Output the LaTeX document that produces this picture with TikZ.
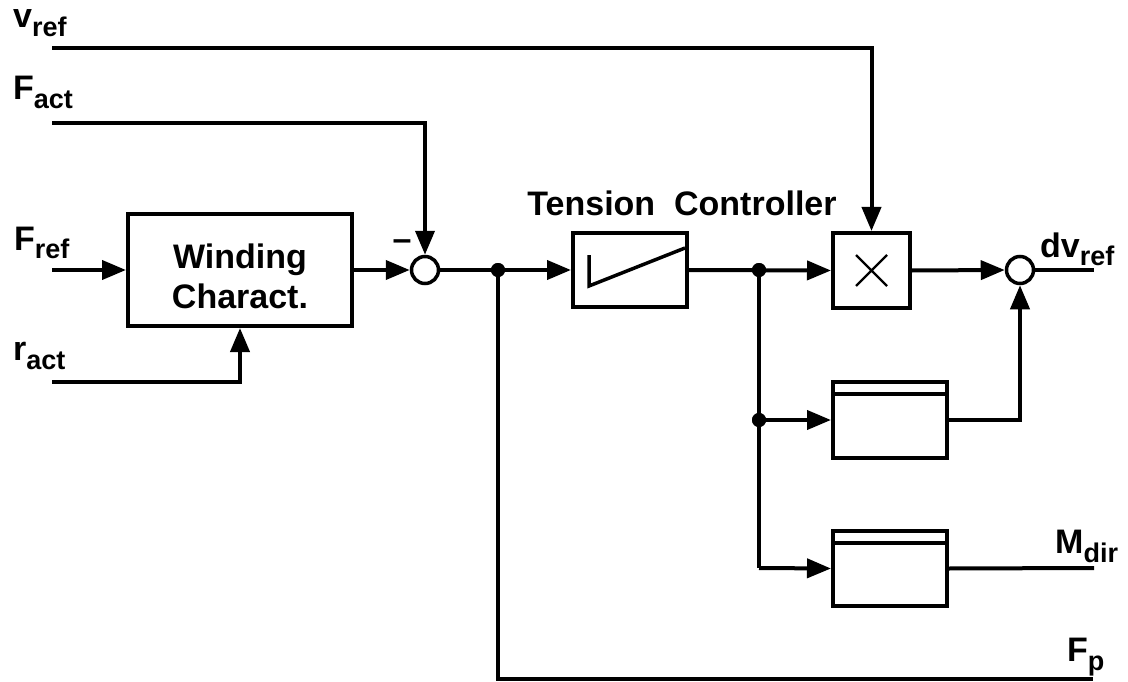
\documentclass[tikz,border=0pt]{standalone}
\usepackage{fontspec}
\setmainfont{Liberation Sans}
\usetikzlibrary{arrows.meta}
\newcommand\sublbl[2]{#1\raisebox{-9pt}{\fontsize{27}{28}\selectfont #2}}
\begin{document}
\begin{tikzpicture}[x=1pt,y=-1pt,
  every node/.style={font=\fontsize{34}{40}\selectfont\bfseries},
  ln/.style={line width=4pt},
  arr/.style={ln,-{Triangle[length=24pt,width=19pt]}},
  blk/.style={draw,line width=4pt,inner sep=0pt,fill=white},
  sumc/.style={circle,draw,line width=3.5pt,minimum size=27pt,inner sep=0pt,fill=white},
  dotc/.style={circle,fill=black,minimum size=14pt,inner sep=0pt},
  lbl/.style={anchor=base west,inner sep=0pt},
  txt/.style={anchor=base,inner sep=0pt}]
\useasboundingbox (0,0) rectangle (1128,682);
% blocks
\node[blk,minimum width=224pt,minimum height=112pt] (wind) at (240,270) {};
\node[txt] (wt1) at (240,268) {Winding};
\node[txt] (wt2) at (240,308) {Charact.};
\node[sumc] (s1) at (425,270) {};
\node[txt] (minus) at (402,251) {–};
\node[blk,minimum width=114pt,minimum height=74pt] (tc) at (630,270) {};
\node[txt] (tclbl) at (682,215) {Tension\ \ Controller};
\node[blk,minimum width=77pt,minimum height=75pt] (mul) at (871.5,270.5) {};
\node[sumc] (s2) at (1020,270) {};
\node[blk,minimum width=114pt,minimum height=76pt] (b1) at (890,420) {};
\node[blk,minimum width=114pt,minimum height=75pt] (b2) at (890,568.5) {};
% block contents
\draw[line width=3.5pt] (589,255) -- (589,286) -- (685,248);
\draw[line width=2.4pt] (856,255) -- (887,286) (856,286) -- (887,255);
\draw[line width=4pt] ([yshift=-14pt]b1.north west) -- ([yshift=-14pt]b1.north east);
\draw[line width=4pt] ([yshift=-14pt]b2.north west) -- ([yshift=-14pt]b2.north east);
% junctions and free ends
\coordinate (vin) at (52,48);
\coordinate (fain) at (52,123);
\coordinate (frin) at (52,270);
\coordinate (rin) at (52,382);
\coordinate (dvout) at (1094,270);
\coordinate (mout) at (1094,568);
\coordinate (fpout) at (1093,679);
\coordinate (c4) at (759,568);
\node[dotc] (d1) at (498,270) {};
\node[dotc] (d2) at (759,270) {};
\node[dotc] (d3) at (759,420) {};
% connectors
\draw[arr] (vin) -| (mul.north);
\draw[arr] (fain) -| (s1.north);
\draw[arr] (frin) -- (wind.west);
\draw[arr] (rin) -| (wind.south);
\draw[arr] (wind.east) -- (s1.west);
\draw[arr] (s1.east) -- (tc.west);
\draw[arr] (tc.east) -- (mul.west);
\draw[arr] (mul.east) -- (s2.west);
\draw[ln] (s2.east) -- (dvout);
\draw[ln] (d2.center) -- (c4);
\draw[arr] (c4) -- (b2.west);
\draw[arr] (d3.center) -- (b1.west);
\draw[arr] (b1.east) -| (s2.south);
\draw[ln] (b2.east) -- (mout);
\draw[ln] (d1.center) |- (fpout);
\node[dotc] at (d1) {};
\node[dotc] at (d2) {};
\node[dotc] at (d3) {};
% labels
\node[lbl] (lv) at (13,28) {\sublbl{v}{ref}};
\node[lbl] (lfa) at (13,100) {\sublbl{F}{act}};
\node[lbl] (lfr) at (14,250) {\sublbl{F}{ref}};
\node[lbl] (lra) at (13,360) {\sublbl{r}{act}};
\node[lbl] (ldv) at (1040,257) {\sublbl{dv}{ref}};
\node[lbl] (lmd) at (1055,553) {\sublbl{M}{dir}};
\node[lbl] (lfp) at (1067,661) {\sublbl{F}{p}};
\end{tikzpicture}
\end{document}
